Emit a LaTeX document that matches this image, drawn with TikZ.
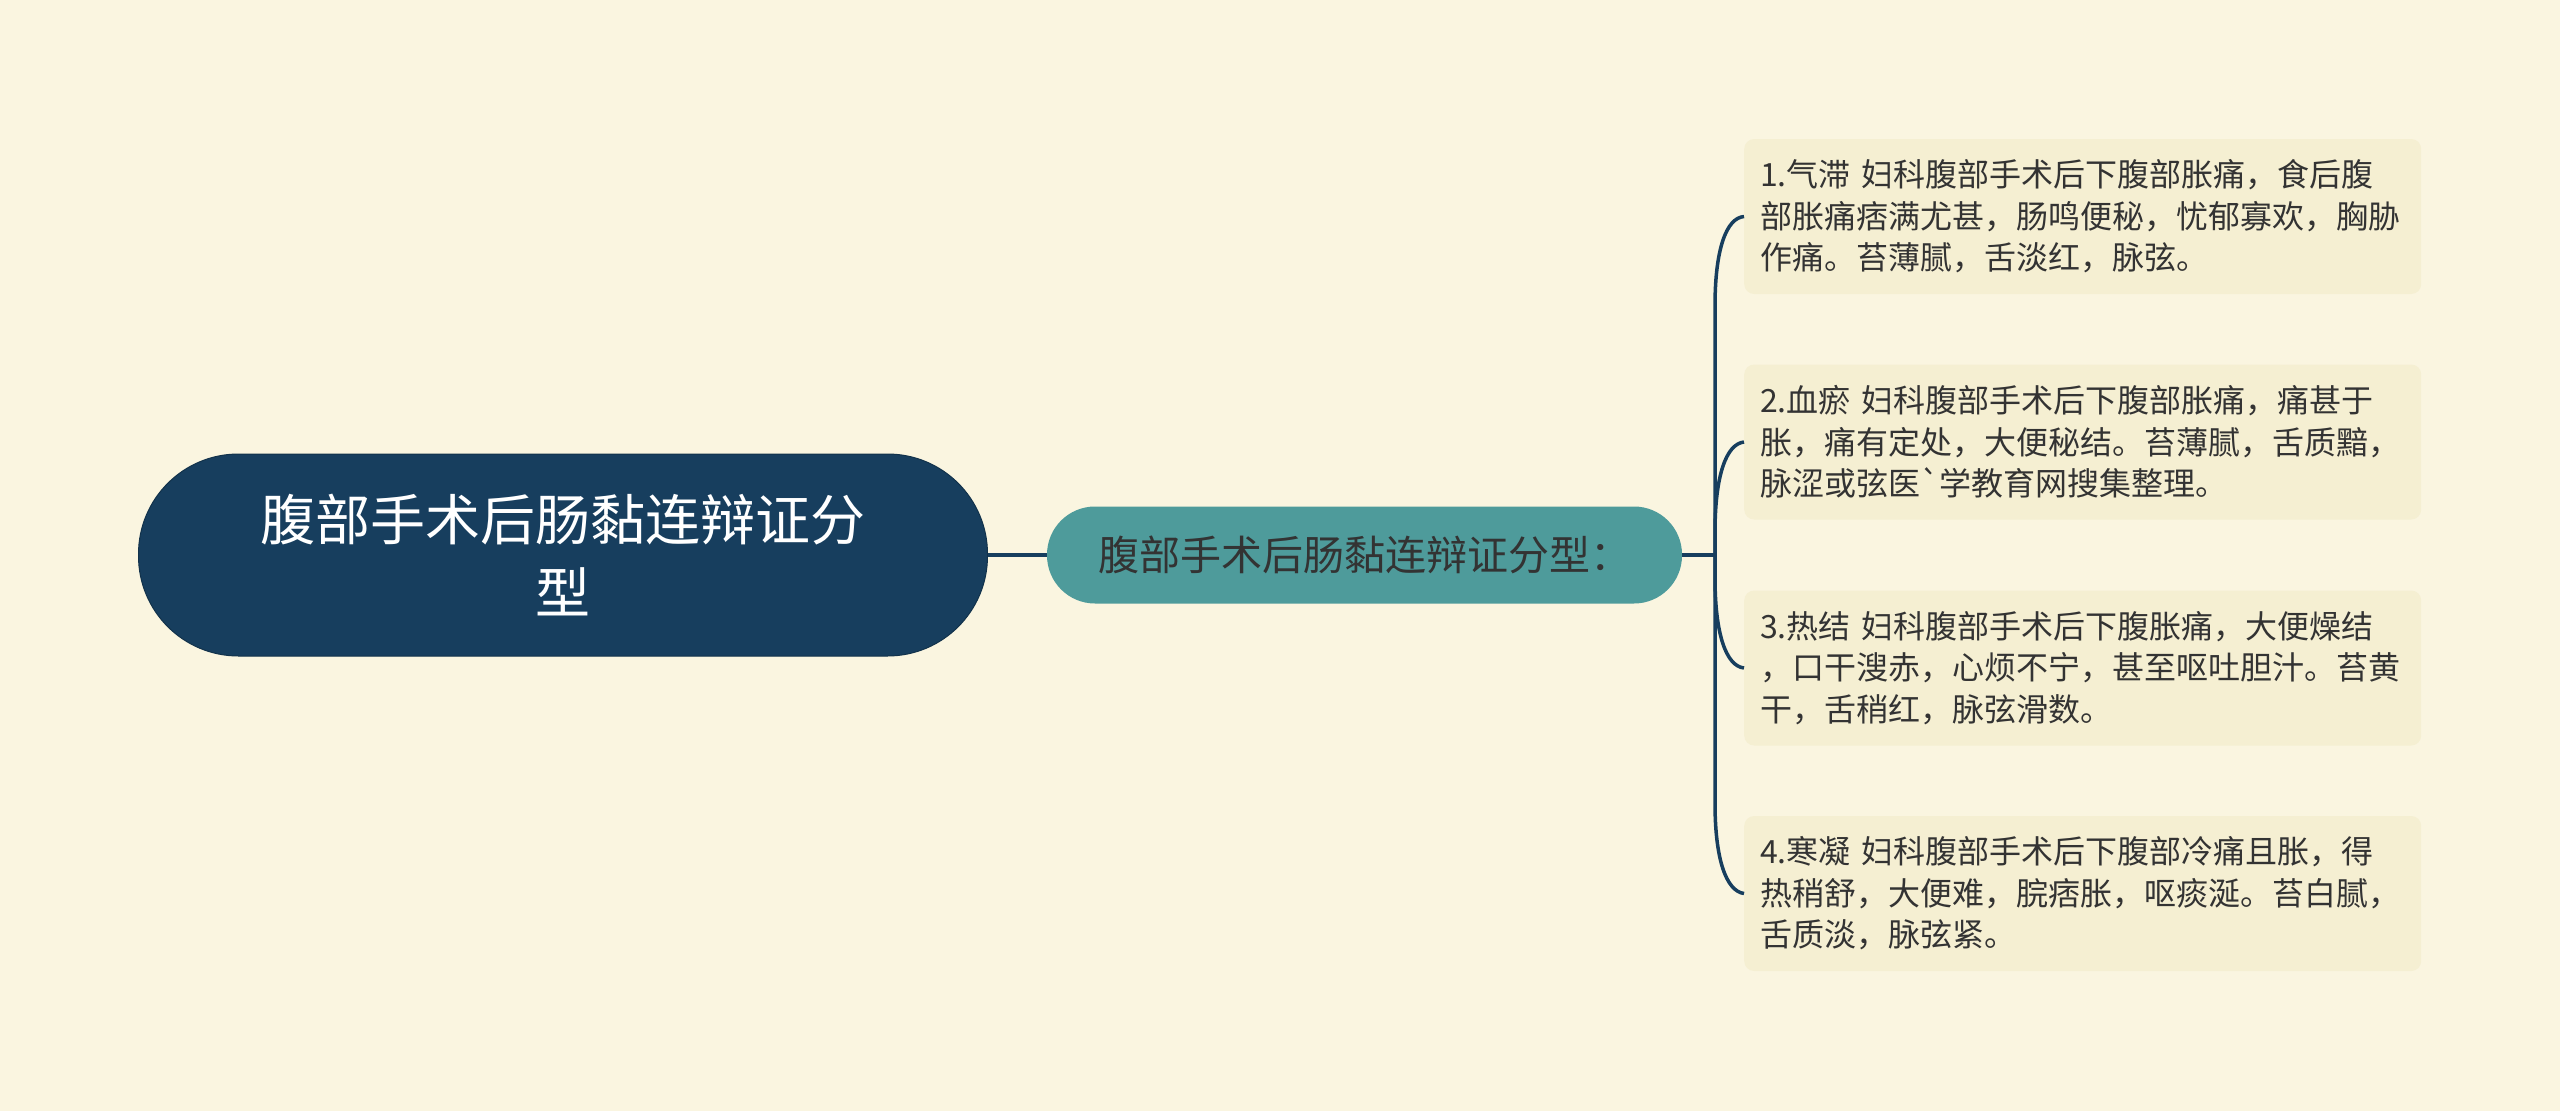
\documentclass[tikz,border=0pt]{standalone}
\usepackage{fontspec}
\setmainfont{Noto Sans CJK SC}
\definecolor{bgc}{HTML}{FAF5E0}
\definecolor{navy}{HTML}{173E5E}
\definecolor{teal}{HTML}{4E9B9B}
\definecolor{leaff}{HTML}{F5EFD2}
\definecolor{txt}{HTML}{333333}
\tikzset{
  rootbox/.style={draw=navy!80!black, line width=1pt, fill=navy, rounded corners=100pt,
    minimum width=849pt, minimum height=202pt, text=white, align=center,
    font=\fontsize{55pt}{73pt}\selectfont, inner sep=0pt},
  midbox/.style={fill=teal, rounded corners=48pt, minimum width=635pt, minimum height=97pt,
    text=txt, font=\fontsize{41pt}{50pt}\selectfont, inner sep=0pt},
  leafbox/.style={fill=leaff, rounded corners=10pt, minimum width=677pt, minimum height=155pt,
    text width=645pt, align=left, text=txt, font=\fontsize{32pt}{41.6pt}\selectfont,
    inner xsep=16pt, inner ysep=0pt, anchor=west},
  conn/.style={draw=navy, line width=3.5pt},
}
\begin{document}
\begin{tikzpicture}[x=1pt,y=-1pt]
\useasboundingbox (0,0) rectangle (2560,1111);
\fill[bgc] (0,0) rectangle (2560,1111);

\node[rootbox] (root) at (563,555) {腹部手术后肠黏连辩证分\\型};
\node[midbox] (mid) at (1364.5,555) {腹部手术后肠黏连辩证分型：};

\node[leafbox] (l1) at (1744,216.5) {1.气滞 妇科腹部手术后下腹部胀痛，食后腹\\部胀痛痞满尤甚，肠鸣便秘，忧郁寡欢，胸胁\\作痛。苔薄腻，舌淡红，脉弦。};
\node[leafbox] (l2) at (1744,442) {2.血瘀 妇科腹部手术后下腹部胀痛，痛甚于\\胀，痛有定处，大便秘结。苔薄腻，舌质黯，\\脉涩或弦医\textasciigrave 学教育网搜集整理。};
\node[leafbox] (l3) at (1744,668) {3.热结 妇科腹部手术后下腹胀痛，大便燥结\\，口干溲赤，心烦不宁，甚至呕吐胆汁。苔黄\\干，舌稍红，脉弦滑数。};
\node[leafbox] (l4) at (1744,893.5) {4.寒凝 妇科腹部手术后下腹部冷痛且胀，得\\热稍舒，大便难，脘痞胀，呕痰涎。苔白腻，\\舌质淡，脉弦紧。};

\coordinate (J) at (1715,555);
\draw[conn] (root.east) -- (mid.west);
\draw[conn] (mid.east) -- (J);
\draw[conn] (J) -- (1715,306) .. controls (1715,250) and (1726,218) .. (l1.west);
\draw[conn] (J) -- (1715,532) .. controls (1715,476) and (1726,444) .. (l2.west);
\draw[conn] (J) -- (1715,578) .. controls (1715,634) and (1726,666) .. (l3.west);
\draw[conn] (J) -- (1715,803) .. controls (1715,859) and (1726,891) .. (l4.west);
\end{tikzpicture}
\end{document}
